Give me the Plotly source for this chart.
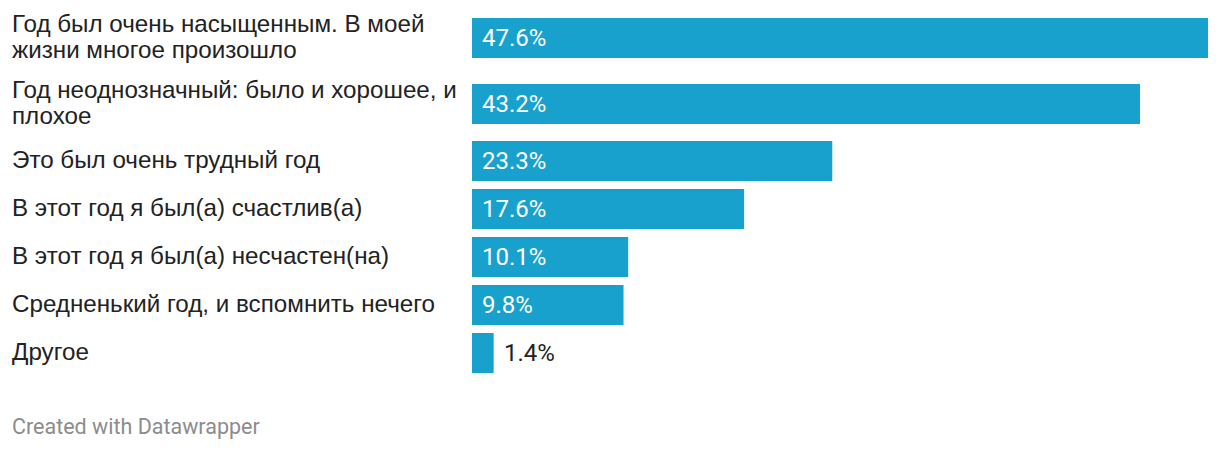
import plotly.graph_objects as go

# survey answers (line breaks as in the source chart)
answers = [
    "Год был очень насыщенным. В моей\nжизни многое произошло",
    "Год неоднозначный: было и хорошее, и\nплохое",
    "Это был очень трудный год",
    "В этот год я был(а) счастлив(а)",
    "В этот год я был(а) несчастен(на)",
    "Средненький год, и вспомнить нечего",
    "Другое",
]
shares = [47.6, 43.2, 23.3, 17.6, 10.1, 9.8, 1.4]

BAR_COLOR = "#18a1cd"
W, H = 1220, 450
BODY = 8  # page margin the browser adds around the plot div
LEFT, RIGHT = 472 - BODY, 12 + BODY
BAR_H, LINE_EXTRA, GAP, TOP_PAD = 40, 18, 8, 9
LINE_H = 26
LABEL_X = 10 - BODY

# row centres follow the height of each wrapped label
heights = [BAR_H + LINE_EXTRA * (a.count("\n")) for a in answers]
centers = []
pos = TOP_PAD
for h in heights:
    centers.append(pos + h / 2)
    pos += h + GAP

fig = go.Figure(go.Bar(
    x=shares, y=centers, orientation="h", width=BAR_H,
    marker=dict(color=BAR_COLOR, line=dict(width=0)),
    hoverinfo="skip",
))

plot_w = W - LEFT - RIGHT
annotations = []
for a, v, c in zip(answers, shares, centers):
    lines = a.split("\n")
    for k, line in enumerate(lines):
        annotations.append(dict(
            text=line, xref="paper", yref="y",
            x=(LABEL_X - LEFT) / plot_w, y=c, xanchor="left", yanchor="middle",
            yshift=-(k - (len(lines) - 1) / 2) * LINE_H + 2,
            showarrow=False,
            font=dict(family="Liberation Sans, Arial", size=24.2, color="#222222"),
        ))
    inside = v >= 5
    annotations.append(dict(
        text=f"{v}%", xref="x", yref="y",
        x=0 if inside else v, y=c, xanchor="left", yanchor="middle",
        xshift=8, showarrow=False,
        font=dict(family="Roboto", size=24,
                  color="#ffffff" if inside else "#222222"),
    ))

annotations.append(dict(
    text="Created with Datawrapper", xref="paper", yref="y",
    x=(LABEL_X - LEFT) / plot_w, y=426, xanchor="left", yanchor="middle",
    showarrow=False, font=dict(family="Roboto", size=21.5, color="#8c8c8c"),
))

fig.update_layout(
    width=W, height=H,
    margin=dict(l=LEFT, r=RIGHT, t=0, b=0),
    paper_bgcolor="white", plot_bgcolor="white",
    showlegend=False,
    xaxis=dict(range=[0, max(shares)], visible=False, fixedrange=True),
    yaxis=dict(range=[H + BODY, BODY], visible=False, fixedrange=True),
    annotations=annotations,
)

fig.write_html("out.html")
